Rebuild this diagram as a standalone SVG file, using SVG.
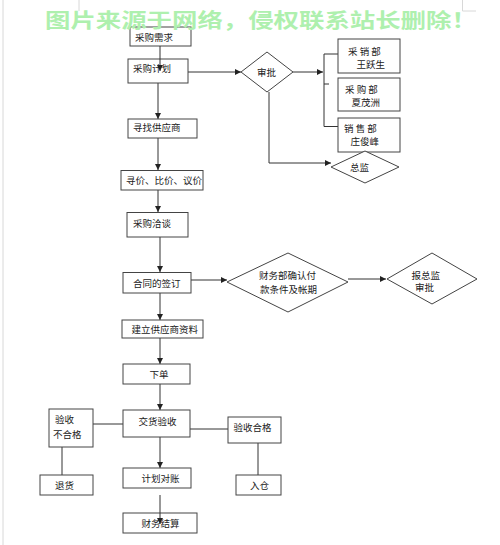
<svg xmlns="http://www.w3.org/2000/svg" width="500" height="545" viewBox="0 0 500 545">
<style>
.bx{fill:#fff;stroke:#444;stroke-width:1}
.ln{fill:none;stroke:#333;stroke-width:1}
.t{font-family:"Noto Sans CJK SC","Noto Sans CJK JP",sans-serif;font-size:9.5px;fill:#222}
.wm{font-family:"Noto Sans CJK SC",sans-serif;font-size:20px;font-weight:bold;fill:#aef0ae}
.pg{stroke:#d8d8d8;stroke-width:1;fill:none}
</style>
<defs>
<marker id="ar" markerUnits="userSpaceOnUse" markerWidth="7" markerHeight="6" refX="6" refY="3" orient="auto">
<path d="M0,0 L6,3 L0,6 z" fill="#222"/>
</marker>
</defs>
<rect width="500" height="545" fill="#fff"/>
<g id="page">
<path class="pg" d="M3,0 V545 M79,0 V11 M462.5,0 V11 H476"/>
</g>
<g id="connectors">
<path class="ln" d="M188,72 H241" marker-end="url(#ar)"/>
<path class="ln" d="M158,83 V119" marker-end="url(#ar)"/>
<path class="ln" d="M293,72 H323" marker-end="url(#ar)"/>
<path class="ln" d="M324,54 V126.5 M324,54 H338 M324,84 H329 M324,126.5 H338"/>
<path class="ln" d="M269,92 V163 H331" marker-end="url(#ar)"/>
<path class="ln" d="M158,138 V170" marker-end="url(#ar)"/>
<path class="ln" d="M158,190 V212" marker-end="url(#ar)"/>
<path class="ln" d="M160,237 V272" marker-end="url(#ar)"/>
<path class="ln" d="M191,280 H227" marker-end="url(#ar)"/>
<path class="ln" d="M348,279 H386" marker-end="url(#ar)"/>
<path class="ln" d="M160,293 V320" marker-end="url(#ar)"/>
<path class="ln" d="M160,338 V364" marker-end="url(#ar)"/>
<path class="ln" d="M160,384 V410" marker-end="url(#ar)"/>
<path class="ln" d="M93,424 H123"/>
<path class="ln" d="M190,429 H228"/>
<path class="ln" d="M62,447 V475"/>
<path class="ln" d="M258,443 V475"/>
<path class="ln" d="M160,437 V468" marker-end="url(#ar)"/>
</g>
<g id="n-xuqiu"><rect class="bx" x="130" y="27" width="61" height="19"/><text class="t" x="135" y="40.5">采购需求</text></g>
<g id="n-jihua"><rect class="bx" x="128" y="59" width="60" height="24"/><text class="t" x="133" y="72">采购计划</text></g>
<g id="n-shenpi"><polygon class="bx" points="241,72 267,52 293,72 267,92"/><text class="t" x="257" y="75.5">审批</text></g>
<g id="n-caixiao"><rect class="bx" x="338" y="39" width="62" height="34"/><text class="t" x="348" y="54.5">采 销 部</text><text class="t" x="356.5" y="67.5">王跃生</text></g>
<g id="n-caigou"><rect class="bx" x="338" y="78" width="62" height="33"/><text class="t" x="345" y="92.5">采 购 部</text><text class="t" x="351.5" y="105.5">夏茂洲</text></g>
<g id="n-xiaoshou"><rect class="bx" x="338" y="118" width="62" height="34"/><text class="t" x="344" y="131.5">销 售 部</text><text class="t" x="350.5" y="144.5">庄俊峰</text></g>
<g id="n-zongjian"><polygon class="bx" points="331,167 365,151 399,167 365,183"/><text class="t" x="350" y="171">总监</text></g>
<g id="n-xunzhao"><rect class="bx" x="128" y="119" width="69" height="19"/><text class="t" x="133" y="131">寻找供应商</text></g>
<g id="n-xunjia"><rect class="bx" x="121" y="170.5" width="82" height="19.5"/><text class="t" x="126" y="184">寻价、比价、议价</text></g>
<g id="n-qiatan"><rect class="bx" x="127" y="212.5" width="61" height="24.5"/><text class="t" x="133" y="227">采购洽谈</text></g>
<g id="n-hetong"><rect class="bx" x="123" y="272.5" width="68" height="20.5"/><text class="t" x="133" y="287">合同的签订</text></g>
<g id="n-caiwu"><polygon class="bx" points="227,282 288,253 348,282 288,312"/><text class="t" x="259" y="279">财务部确认付</text><text class="t" x="260" y="293">款条件及帐期</text></g>
<g id="n-baozong"><polygon class="bx" points="387,279 432,253 477,279 432,304"/><text class="t" x="411.5" y="278.5">报总监</text><text class="t" x="415" y="291">审批</text></g>
<g id="n-jianli"><rect class="bx" x="122" y="320" width="81" height="18"/><text class="t" x="131.5" y="333">建立供应商资料</text></g>
<g id="n-xiadan"><rect class="bx" x="123" y="364" width="67" height="20"/><text class="t" x="149.5" y="378">下单</text></g>
<g id="n-jiaohuo"><rect class="bx" x="123" y="410" width="67" height="27"/><text class="t" x="138.5" y="424.5">交货验收</text></g>
<g id="n-buhege"><rect class="bx" x="49" y="409" width="44" height="38"/><text class="t" x="55" y="423">验收</text><text class="t" x="53" y="437.5">不合格</text></g>
<g id="n-hege"><rect class="bx" x="228" y="417" width="53" height="26"/><text class="t" x="233.5" y="431">验收合格</text></g>
<g id="n-tuihuo"><rect class="bx" x="40" y="475" width="53" height="20"/><text class="t" x="55" y="489">退货</text></g>
<g id="n-rucang"><rect class="bx" x="236" y="475" width="45" height="20"/><text class="t" x="250" y="489">入仓</text></g>
<g id="n-duizhang"><rect class="bx" x="123" y="468" width="68" height="20"/><text class="t" x="141.5" y="482">计划对账</text></g>
<g id="n-jiesuan"><rect class="bx" x="123" y="513" width="74" height="20"/><text class="t" x="141.5" y="527">财务结算</text></g>
<g id="connectors-over">
<path class="ln" d="M160,46 V71" marker-end="url(#ar)"/>
<path class="ln" d="M160,495 V524" marker-end="url(#ar)"/>
</g>
<g id="watermark"><text class="wm" transform="translate(45,27.5) scale(1.27,1)" x="0" y="0">图片来源于网络，侵权联系站长删除！</text></g>
</svg>
